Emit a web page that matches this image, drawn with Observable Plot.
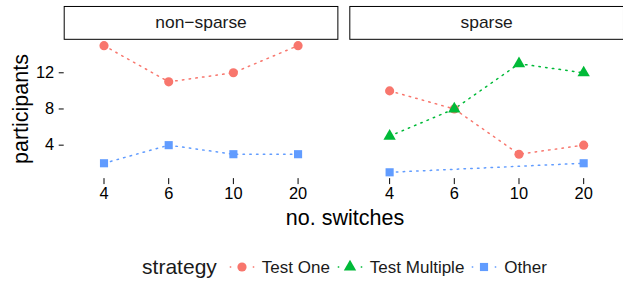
<!DOCTYPE html>
<html><head><meta charset="utf-8">
<script src="https://cdn.jsdelivr.net/npm/d3@7"></script>
<script src="https://cdn.jsdelivr.net/npm/@observablehq/plot@0.6"></script>
<style>
body{margin:0;overflow:hidden;background:#fff;font-family:"Liberation Sans",Arial,Helvetica,sans-serif;}
#chart{position:relative;width:623px;height:282px;overflow:hidden;background:#fff}
#chart > svg{position:absolute;left:0;top:0}
.title{position:absolute;color:#000;font-size:21.5px;white-space:nowrap;text-align:center;line-height:24px;height:24px}
#ytitle{width:200px;left:-78.9px;top:97px;transform:rotate(-90deg)}
#xtitle{width:300px;left:195px;top:205.5px}
#legend{position:absolute;left:63px;width:563px;top:253.4px;height:28px;display:flex;align-items:center;justify-content:center;color:#1a1a1a;font-size:17px;line-height:17px;white-space:nowrap}
#legend .ltitle{font-size:21px;line-height:21px;margin-right:10px;position:relative;top:-1px}
#legend svg.key{display:block;position:static;flex:none}
#legend .lab{margin-left:5px}
</style></head><body><div id="chart"></div>
<script>
const switches = ["4", "6", "10", "20"];
const conditions = ["non-sparse", "sparse"];
const strategies = ["Test One", "Test Multiple", "Other"];
const colors = ["#F8766D", "#00BA38", "#619CFF"];
const symbols = ["circle", "triangle", "square"];
const yTicks = [4, 8, 12];

const nonSparseTestOne = [15, 11, 12, 15];
const nonSparseOther = [2, 4, 3, 3];
const sparseTestOne = [10, 8, 3, 4];
const sparseTestMultiple = [5, 8, 13, 12];
const sparseOther = [1, null, null, 2];

const series = [
  {condition: "non-sparse", strategy: "Test One", values: nonSparseTestOne},
  {condition: "non-sparse", strategy: "Other", values: nonSparseOther},
  {condition: "sparse", strategy: "Test One", values: sparseTestOne},
  {condition: "sparse", strategy: "Test Multiple", values: sparseTestMultiple},
  {condition: "sparse", strategy: "Other", values: sparseOther}
];
const data = series.flatMap(s => s.values
  .map((v, i) => ({condition: s.condition, strategy: s.strategy, switches: switches[i], participants: v}))
  .filter(d => d.participants != null));

const font = '"Liberation Sans", Arial, Helvetica, sans-serif';
const R = 4.6;

const plot = Plot.plot({
  width: 626,
  height: 236,
  marginTop: 39,
  marginBottom: 57,
  marginLeft: 63,
  marginRight: 0,
  style: {fontFamily: font, fontSize: "16.5px", color: "#000", background: "transparent", overflow: "visible"},
  fx: {domain: conditions, paddingInner: 0.043, paddingOuter: 0, axis: null, label: null},
  x: {type: "point", domain: switches, padding: 0.6, label: null},
  y: {domain: [0.3, 15.7], label: null},
  color: {domain: strategies, range: colors},
  symbol: {domain: strategies, range: symbols},
  marks: [
    Plot.frame({insetTop: -33, insetBottom: 140, stroke: "#000", fill: "#fff", strokeWidth: 1}),
    Plot.text(conditions, {fx: d => d, text: d => d.replace("-", "\u2212"), frameAnchor: "top", dy: -16.5, lineAnchor: "middle", fontSize: 17.5, fill: "#1a1a1a"}),
    Plot.axisY({ticks: yTicks, tickSize: 5, tickPadding: 5, fontSize: 16.5, label: null, stroke: "#000", fill: "#000"}),
    Plot.axisX({tickSize: 6, tickPadding: 3, fontSize: 16.5, label: null, stroke: "#000", fill: "#000"}),
    Plot.line(data, {fx: "condition", x: "switches", y: "participants", stroke: "strategy", z: "strategy",
      curve: "linear", strokeWidth: 1.5, strokeDasharray: "1.5,5.3"}),
    Plot.dot(data, {fx: "condition", x: "switches", y: "participants", fill: "strategy", symbol: "strategy", r: R, stroke: "none"})
  ]
});

const chart = document.getElementById("chart");
chart.appendChild(plot);

const yt = document.createElement("div");
yt.id = "ytitle"; yt.className = "title"; yt.textContent = "participants";
chart.appendChild(yt);
const xt = document.createElement("div");
xt.id = "xtitle"; xt.className = "title"; xt.textContent = "no. switches";
chart.appendChild(xt);

// legend
const legend = document.createElement("div");
legend.id = "legend";
const lt = document.createElement("span");
lt.className = "ltitle"; lt.textContent = "strategy";
legend.appendChild(lt);
const symMap = {circle: d3.symbolCircle, triangle: d3.symbolTriangle, square: d3.symbolSquare};
strategies.forEach((s, i) => {
  const svg = d3.create("svg").attr("class", "key").attr("width", 30).attr("height", 20)
    .style("margin-left", i === 0 ? "0px" : "5px");
  svg.append("line").attr("x1", 0).attr("x2", 30).attr("y1", 10).attr("y2", 10)
    .attr("stroke", colors[i]).attr("stroke-width", 1.5)
    .attr("stroke-dasharray", "1.5,10").attr("stroke-dashoffset", -2.75);
  svg.append("path").attr("transform", "translate(15,10)")
    .attr("d", d3.symbol(symMap[symbols[i]], Math.PI * R * R)())
    .attr("fill", colors[i]);
  legend.appendChild(svg.node());
  const lab = document.createElement("span");
  lab.className = "lab"; lab.textContent = s;
  legend.appendChild(lab);
});
chart.appendChild(legend);
</script>
</body></html>
